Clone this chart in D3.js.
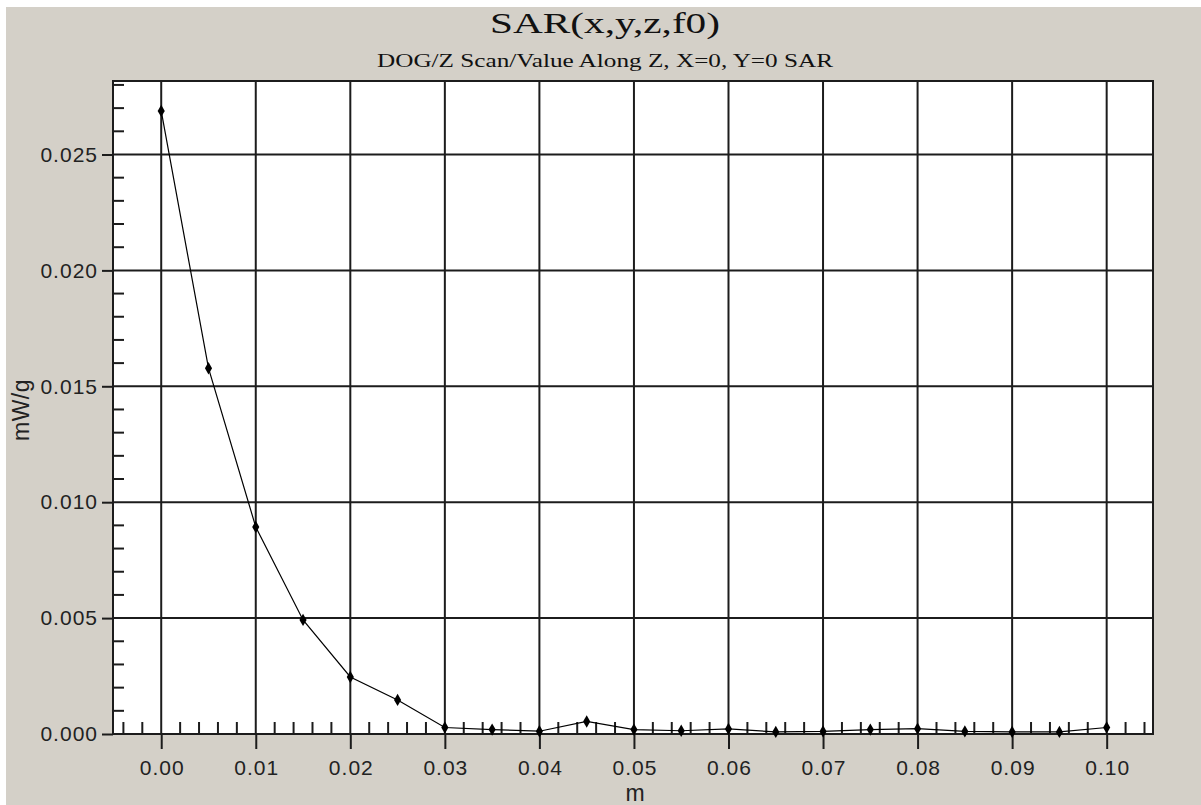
<!DOCTYPE html>
<html>
<head>
<meta charset="utf-8">
<script src="https://cdn.jsdelivr.net/npm/d3@7"></script>
<style>
  html, body { margin: 0; padding: 0; background: #ffffff; }
  svg { display: block; }
</style>
</head>
<body>
<svg id="chart" width="1201" height="805"></svg>
<script>
// ---- data ----
const zPositions = [0.000, 0.005, 0.010, 0.015, 0.020, 0.025, 0.030, 0.035, 0.040, 0.045, 0.050,
                    0.055, 0.060, 0.065, 0.070, 0.075, 0.080, 0.085, 0.090, 0.095, 0.100];
const sarValues  = [0.02688, 0.01578, 0.00893, 0.00492, 0.00246, 0.00147, 0.00028, 0.00019, 0.00012, 0.00054, 0.00019,
                    0.00014, 0.00022, 0.00009, 0.00011, 0.00019, 0.00023, 0.00011, 0.00009, 0.00009, 0.00028];
const xTickValues = [0.00, 0.01, 0.02, 0.03, 0.04, 0.05, 0.06, 0.07, 0.08, 0.09, 0.10];
const yTickValues = [0.000, 0.005, 0.010, 0.015, 0.020, 0.025];
const titleText = "SAR(x,y,z,f0)";
const subtitleText = "DOG/Z Scan/Value Along Z, X=0, Y=0 SAR";
const xLabelText = "m";
const yLabelText = "mW/g";

// ---- layout ----
const svg = d3.select("#chart");
const W = 1201, H = 805;
const plot = { left: 113, right: 1153, top: 81, bottom: 734 };
const ink = "#1c1c1c";

// background
svg.append("rect").attr("x", 0).attr("y", 0).attr("width", W).attr("height", H).attr("fill", "#ffffff");
svg.append("rect").attr("x", 6).attr("y", 7).attr("width", W - 6).attr("height", H - 7).attr("fill", "#d4d0c8");

const x = d3.scaleLinear().domain([-0.0051, 0.1049]).range([plot.left, plot.right]);
const y = d3.scaleLinear().domain([0, 0.02817]).range([plot.bottom, plot.top]);

// plot area
svg.append("rect")
  .attr("x", plot.left).attr("y", plot.top)
  .attr("width", plot.right - plot.left).attr("height", plot.bottom - plot.top)
  .attr("fill", "#ffffff");

// grid lines
const grid = svg.append("g").attr("stroke", ink).attr("stroke-width", 2);
xTickValues.forEach(v => {
  grid.append("line").attr("x1", x(v)).attr("x2", x(v)).attr("y1", plot.top).attr("y2", plot.bottom);
});
yTickValues.forEach(v => {
  grid.append("line").attr("x1", plot.left).attr("x2", plot.right).attr("y1", y(v)).attr("y2", y(v));
});

// minor ticks (inside)
const xMinor = d3.range(-0.004, 0.1045, 0.002).filter(v => Math.abs(Math.round(v * 100) - v * 100) > 1e-6);
const yMinor = d3.range(0.001, 0.0282, 0.001).filter(v => Math.abs(Math.round(v * 200) - v * 200) > 1e-6);
const minor = svg.append("g").attr("stroke", ink).attr("stroke-width", 2);
xMinor.forEach(v => {
  minor.append("line").attr("x1", x(v)).attr("x2", x(v)).attr("y1", plot.bottom).attr("y2", plot.bottom - 12);
});
yMinor.forEach(v => {
  minor.append("line").attr("x1", plot.left).attr("x2", plot.left + 11).attr("y1", y(v)).attr("y2", y(v));
});

// x axis
const xAxis = d3.axisBottom(x).tickValues(xTickValues).tickFormat(d3.format(".2f")).tickSizeInner(15).tickSizeOuter(0).tickPadding(11);
const gx = svg.append("g").attr("transform", `translate(0,${plot.bottom})`).call(xAxis);
gx.select(".domain").remove();
gx.selectAll(".tick line").attr("stroke", ink).attr("stroke-width", 2);
gx.selectAll(".tick text")
  .attr("fill", "#222").attr("font-family", "Liberation Sans, Arial, sans-serif")
  .attr("font-size", 21).attr("letter-spacing", 1).attr("dx", 0.5);

// y axis
const yAxis = d3.axisLeft(y).tickValues(yTickValues).tickFormat(d3.format(".3f")).tickSizeInner(11).tickSizeOuter(0).tickPadding(4);
const gy = svg.append("g").attr("transform", `translate(${plot.left},0)`).call(yAxis);
gy.select(".domain").remove();
gy.selectAll(".tick line").attr("stroke", ink).attr("stroke-width", 2);
gy.selectAll(".tick text")
  .attr("fill", "#222").attr("font-family", "Liberation Sans, Arial, sans-serif")
  .attr("font-size", 21).attr("letter-spacing", 1);

// plot border
svg.append("rect")
  .attr("x", plot.left).attr("y", plot.top)
  .attr("width", plot.right - plot.left).attr("height", plot.bottom - plot.top)
  .attr("fill", "none").attr("stroke", ink).attr("stroke-width", 2);

// data line
const data = zPositions.map((z, i) => ({ z, v: sarValues[i] }));
svg.append("path")
  .datum(data)
  .attr("fill", "none").attr("stroke", "#000").attr("stroke-width", 1.2)
  .attr("d", d3.line().x(d => x(d.z)).y(d => y(d.v)));

// markers
svg.append("g").selectAll("path")
  .data(data).join("path")
  .attr("d", d3.symbol().type(d3.symbolDiamond).size(44))
  .attr("transform", d => `translate(${x(d.z)},${y(d.v)})`)
  .attr("fill", "#000");

// titles
const cx = 605;
svg.append("text")
  .attr("x", cx).attr("y", 33).attr("text-anchor", "middle")
  .attr("font-family", "Liberation Serif, Times New Roman, serif").attr("font-size", 29)
  .attr("fill", "#111")
  .attr("textLength", 230).attr("lengthAdjust", "spacingAndGlyphs")
  .text(titleText);
svg.append("text")
  .attr("x", cx).attr("y", 67).attr("text-anchor", "middle")
  .attr("font-family", "Liberation Serif, Times New Roman, serif").attr("font-size", 19)
  .attr("fill", "#111")
  .attr("textLength", 456).attr("lengthAdjust", "spacingAndGlyphs")
  .text(subtitleText);

// axis labels
svg.append("text")
  .attr("x", (plot.left + plot.right) / 2 + 2).attr("y", 801).attr("text-anchor", "middle")
  .attr("font-family", "Liberation Sans, Arial, sans-serif").attr("font-size", 23)
  .attr("fill", "#222").text(xLabelText);
svg.append("text")
  .attr("transform", "translate(29,410) rotate(-90)").attr("text-anchor", "middle")
  .attr("font-family", "Liberation Sans, Arial, sans-serif").attr("font-size", 23)
  .attr("fill", "#222").attr("letter-spacing", 0.5).text(yLabelText);
</script>
</body>
</html>
